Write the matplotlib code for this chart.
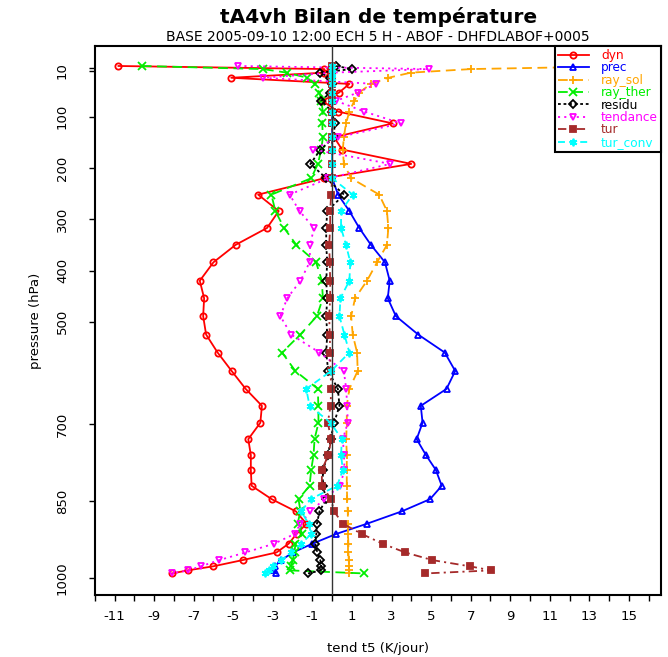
import numpy as np
import matplotlib
matplotlib.use("Agg")
import matplotlib.pyplot as plt
from matplotlib.lines import Line2D

# model levels (hPa)
LEVELS = [1, 7, 14, 24, 36, 53, 69, 90, 113, 140,
          164, 192, 220, 252, 284, 317, 350, 384, 420, 454,
          489, 525, 560, 596, 631, 664, 697, 729, 760, 789,
          820, 846, 870, 894, 914, 933, 950, 965, 977, 985, 991]

DYN = [-10.8, -0.4, -0.4, -5.1, 0.87, 0.34, -0.5, 0.3, 3.06, 0.1,
       0.5, 4.0, -0.4, -3.74, -2.70, -3.29, -4.88, -6.0, -6.69, -6.47,
       -6.52, -6.37, -5.79, -5.08, -4.37, -3.55, -3.63, -4.24, -4.11, -4.11,
       -4.07, -3.06, -1.83, -1.3, -1.8, -2.2, -2.81, -4.53, -6.0, -7.3, -8.1]
PREC = [0.0, 0.0, 0.0, 0.0, 0.0, 0.0, 0.0, 0.0, 0.0, 0.0,
        0.0, 0.0, 0.0, 0.3, 0.87, 1.37, 1.96, 2.67, 2.91, 2.81,
        3.22, 4.35, 5.69, 6.22, 5.78, 4.48, 4.57, 4.27, 4.74, 5.24,
        5.54, 4.95, 3.51, 1.76, 0.2, -1.0, -1.98, -2.57, -2.9, -2.99, -2.82]
RAY_SOL = [15.5, 7.04, 3.98, 2.84, 1.96, 1.36, 1.12, 0.87, 0.7, 0.59,
           0.54, 0.59, 0.96, 2.38, 2.77, 2.84, 2.77, 2.27, 1.76, 1.16,
           0.96, 1.04, 1.26, 1.29, 0.87, 0.74, 0.74, 0.71, 0.74, 0.74,
           0.74, 0.76, 0.79, 0.8, 0.8, 0.82, 0.82, 0.84, 0.85, 0.86, 0.87]
RAY_THER = [-9.62, -3.49, -2.3, -1.26, -0.89, -0.64, -0.55, -0.47, -0.5, -0.47,
            -0.55, -0.72, -1.06, -3.07, -2.87, -2.43, -1.81, -0.81, -0.52, -0.47,
            -0.77, -1.61, -2.53, -1.86, -0.72, -0.7, -0.69, -0.89, -0.94, -1.06,
            -1.14, -1.7, -1.6, -1.75, -1.5, -1.86, -1.9, -2.0, -2.07, -2.15, 1.63]
RESIDU = [0.2, 0.99, -0.59, -0.1, 0.0, -0.1, -0.55, 0.0, 0.12, 0.1,
          -0.59, -1.1, -0.3, 0.6, -0.25, -0.3, -0.3, -0.25, -0.3, -0.25,
          -0.3, -0.25, -0.3, -0.2, 0.29, 0.37, 0.1, -0.08, -0.2, -0.47,
          -0.47, -0.3, -0.64, -0.77, -0.8, -0.85, -0.75, -0.6, -0.55, -0.55, -1.22]
TENDANCE = [-4.75, 4.87, 0.0, -3.49, 2.22, 1.29, 0.2, 1.63, 3.48, 0.3,
            -0.97, 2.94, -0.2, -2.15, -1.65, -0.92, -1.11, -1.14, -1.6, -2.27,
            -2.62, -2.07, -0.64, 0.59, 0.71, 0.76, 0.79, 0.54, 0.6, 0.62,
            0.4, -0.39, -1.1, -1.6, -1.9, -2.94, -4.38, -5.71, -6.63, -7.27, -8.1]
TUR = [0.0, 0.0, 0.0, 0.0, 0.0, 0.0, 0.0, 0.0, 0.0, 0.0,
       0.0, 0.0, 0.0, -0.05, -0.1, -0.1, -0.15, -0.12, -0.1, -0.1,
       -0.15, -0.12, -0.1, -0.08, -0.05, -0.08, -0.22, -0.05, -0.19, -0.52,
       -0.52, -0.05, 0.09, 0.55, 1.5, 2.55, 3.69, 5.07, 6.95, 8.05, 4.7]
TUR_CONV = [0.0, 0.0, 0.0, 0.0, 0.0, 0.0, 0.0, 0.0, 0.0, 0.0,
            0.0, 0.0, 0.0, 1.04, 0.45, 0.45, 0.7, 0.92, 0.87, 0.42,
            0.37, 0.62, 0.87, -0.05, -1.31, -1.14, -0.08, 0.49, 0.45, 0.54,
            0.25, -1.09, -1.56, -1.19, -1.06, -1.56, -2.07, -2.57, -2.99, -3.2, -3.41]

ASTERISK = (6, 2, 0)
SERIES = [
    # label,      values,   colour,    linestyle,              marker,   filled
    ("dyn",       DYN,      "#ff0000", "-",                    "o",      False),
    ("prec",      PREC,     "#0000ff", "-",                    "^",      False),
    ("ray_sol",   RAY_SOL,  "#ffa500", (0, (7, 4)),            "+",      True),
    ("ray_ther",  RAY_THER, "#00ee00", (0, (7, 4)),            "x",      True),
    ("residu",    RESIDU,   "#000000", (0, (2, 2)),            "D",      False),
    ("tendance",  TENDANCE, "#ff00ff", (0, (1.5, 3)),          "v",      False),
    ("tur",       TUR,      "#a52a2a", (0, (6, 3, 1.5, 3)),    "s",      True),
    ("tur_conv",  TUR_CONV, "#00ffff", (0, (5, 3)),            ASTERISK, True),
]

XTICKS = list(range(-11, 17, 2))
YTICKS = [10, 100, 200, 300, 400, 500, 700, 850, 1000]

plt.rcParams["lines.scale_dashes"] = False
plt.rcParams["axes.unicode_minus"] = False

fig = plt.figure(figsize=(6.68, 6.57), dpi=100)
ax = fig.add_axes([0.1418, 0.0944, 0.8477, 0.8356])

handles = []
for label, vals, color, ls, mk, filled in SERIES:
    ms = 5.5 if mk in ("+", "x", ASTERISK) else 4.5
    if mk == "D":
        ms = 4.0
    kw = dict(color=color, linestyle=ls, linewidth=1.3, marker=mk,
              markersize=ms, markeredgewidth=1.3, markeredgecolor=color,
              markerfacecolor=color if filled else "none")
    ax.plot(vals, LEVELS, **kw)
    handles.append(Line2D([0], [0], label=label, **kw))

ax.axvline(0, color="#333333", linewidth=1.0, zorder=10)

ax.set_xlim(-11.9, 16.62)
ax.set_ylim(1033, -38)
ax.set_xticks(XTICKS)
ax.set_xticks(list(range(-12, 17, 2)), minor=True)
ax.set_yticks(YTICKS)
ax.set_yticks([4], minor=True)
ax.tick_params(which="both", direction="out", length=4.5, width=1.0)
ax.tick_params(axis="x", labelsize=9.5, pad=6)
ax.tick_params(axis="y", labelsize=9.5, pad=14)
for lab in ax.get_yticklabels():
    lab.set_rotation(90)
    lab.set_va("center")
for sp in ax.spines.values():
    sp.set_linewidth(1.5)

ax.set_xlabel("tend t5 (K/jour)", fontsize=9.5, labelpad=14)
ax.set_ylabel("pressure (hPa)", fontsize=9.5, labelpad=10)

fig.text(0.566, 0.974, "tA4vh Bilan de température", ha="center", va="center",
         fontsize=14.5, fontweight="bold")
fig.text(0.566, 0.944, "BASE 2005-09-10 12:00 ECH 5 H - ABOF - DHFDLABOF+0005",
         ha="center", va="center", fontsize=10)

leg = ax.legend(handles=handles, loc="upper right", bbox_to_anchor=(1.0, 1.0),
                borderaxespad=0, fontsize=8.7, labelcolor="linecolor",
                numpoints=1, handlelength=2.6, handletextpad=1.0,
                labelspacing=-0.05, borderpad=0.25, fancybox=False,
                framealpha=1, edgecolor="black")
leg.get_frame().set_linewidth(1.5)

fig.savefig("out.png", dpi=100)
